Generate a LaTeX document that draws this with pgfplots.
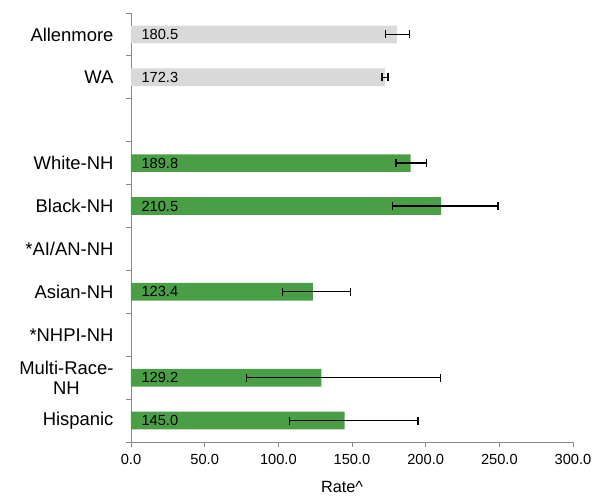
\documentclass[border=0pt]{standalone}
\usepackage{fontspec}
\setmainfont{Liberation Sans}
\usepackage{pgfplots}
\pgfplotsset{compat=1.18}
\definecolor{barGray}{RGB}{217,217,217}
\definecolor{barGreen}{RGB}{74,159,70}
\definecolor{axGray}{RGB}{137,137,137}

\begin{document}
\begin{tikzpicture}
\begin{axis}[
  width=442bp, height=429bp, scale only axis,
  xmin=0, xmax=300, ymin=0.5, ymax=10.5,
  axis x line*=bottom, axis y line*=left,
  axis line style={draw=axGray, line width=0.8bp, -},
  /pgf/number format/assume math mode=true,
  tick align=outside,
  xtick={0,50,...,300},
  xticklabel={\pgfmathprintnumber[fixed,fixed zerofill,precision=1]{\tick}},
  xticklabel style={font=\fontsize{14.7}{17}\selectfont, yshift=-4bp},
  major tick length=5bp, minor tick length=5bp,
  major x tick style={draw=axGray, line width=0.8bp},
  ytick={1,...,10},
  yticklabels={Hispanic,{Multi-Race-\\NH},*NHPI-NH,Asian-NH,*AI/AN-NH,Black-NH,White-NH,{},WA,Allenmore},
  yticklabel style={font=\fontsize{18.5}{20.5}\selectfont, align=center, xshift=-9bp},
  major y tick style={draw=none},
  minor ytick={0.5,1.5,...,10.5},
  minor y tick style={draw=axGray, line width=0.8bp},
  xlabel={Rate\textasciicircum},
  xlabel style={font=\fontsize{16.3}{19}\selectfont, xshift=-10bp, yshift=-10bp},
]
\addplot[xbar, bar width=17.7bp, bar shift=0pt, fill=barGray, draw=none,
  error bars/.cd, x dir=both, x explicit, error mark=-,
  error bar style={black, line width=1.3bp},
  error mark options={black, rotate=90, mark size=4bp, line width=1.3bp}]
  coordinates {
  (180.5,10) += (8.6,0) -= (7.9,0)
  (172.3,9)  += (2.1,0) -= (2.0,0)
};
\addplot[xbar, bar width=17.7bp, bar shift=0pt, fill=barGreen, draw=none,
  error bars/.cd, x dir=both, x explicit, error mark=-,
  error bar style={black, line width=1.3bp},
  error mark options={black, rotate=90, mark size=4bp, line width=1.3bp}]
  coordinates {
  (189.8,7) += (10.6,0) -= (10.0,0)
  (210.5,6) += (38.6,0) -= (33.2,0)
  (123.4,4) += (25.8,0) -= (20.8,0)
  (129.2,2) += (80.9,0) -= (50.6,0)
  (145.0,1) += (49.8,0) -= (37.4,0)
};
\addplot[draw=none, mark=none, point meta=explicit,
  nodes near coords={\pgfmathprintnumber[fixed,fixed zerofill,precision=1]{\pgfplotspointmeta}},
  nodes near coords style={anchor=west, xshift=7bp, text=black, font=\fontsize{14.7}{17}\selectfont}]
  coordinates {
  (0,10) [180.5]
  (0,9)  [172.3]
  (0,7)  [189.8]
  (0,6)  [210.5]
  (0,4)  [123.4]
  (0,2)  [129.2]
  (0,1)  [145.0]
};
\end{axis}
\pgfresetboundingbox
\path ([shift={(-131bp,-55bp)}]current axis.south west) rectangle ([shift={(19bp,13bp)}]current axis.north east);
\end{tikzpicture}
\end{document}
